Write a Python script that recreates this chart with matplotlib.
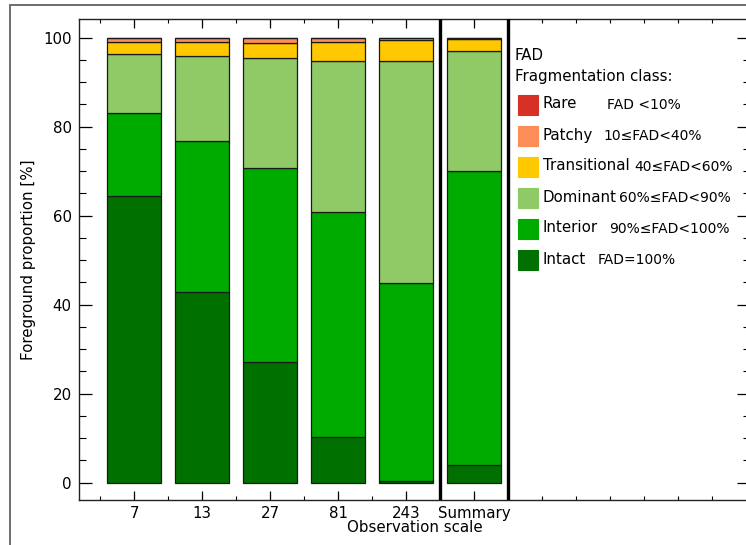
import matplotlib
matplotlib.use("Agg")
import matplotlib.pyplot as plt
from matplotlib.patches import Rectangle
from matplotlib.ticker import MultipleLocator, FixedLocator
import numpy as np

# ---- data ----
scales = ["7", "13", "27", "81", "243", "Summary"]
classes = ["Rare", "Patchy", "Transitional", "Dominant", "Interior", "Intact"]
class_ranges = ["FAD <10%", "10\u2264FAD<40%", "40\u2264FAD<60%",
                "60%\u2264FAD<90%", "90%\u2264FAD<100%", "FAD=100%"]
colors = ["#d73027", "#fc8d59", "#ffc800", "#8fca67", "#00ab00", "#007100"]

intact = [64.4, 42.8, 27.1, 10.3, 0.4, 4.0]
interior = [18.6, 34.0, 43.5, 50.5, 44.5, 66.1]
dominant = [13.4, 19.1, 24.8, 34.0, 49.8, 26.9]
transitional = [2.6, 3.0, 3.3, 4.1, 4.7, 2.6]
patchy = [0.9, 1.0, 1.2, 1.0, 0.55, 0.25]
rare = [0.1, 0.1, 0.1, 0.1, 0.05, 0.15]

series = {"Intact": intact, "Interior": interior, "Dominant": dominant,
          "Transitional": transitional, "Patchy": patchy, "Rare": rare}

W, H = 746, 545
fig = plt.figure(figsize=(W / 100, H / 100), dpi=100)
FS = 10.8

def fx(x):
    return x / W

def fy(y):
    return 1 - y / H

# outer frame
fig.patches.append(Rectangle((fx(10), -0.1), 1.2, fy(5) + 0.1, transform=fig.transFigure,
                             fill=False, edgecolor="#6e6e6e", linewidth=1.4, zorder=0))

ax = fig.add_axes([fx(79.3), fy(500), fx(750) - fx(79.3), fy(19.3) - fy(500)])
x = np.arange(len(scales))
bottom = np.zeros(len(scales))
order = ["Intact", "Interior", "Dominant", "Transitional", "Patchy", "Rare"]
for name in order:
    vals = np.array(series[name])
    c = colors[classes.index(name)]
    ax.bar(x, vals, width=0.8, bottom=bottom, color=c, edgecolor="#1a1a1a",
           linewidth=0.9, zorder=2)
    bottom += vals

ax.axvline(4.5, color="black", linewidth=2.4, zorder=3)
ax.axvline(5.5, color="black", linewidth=2.4, zorder=3)

ax.set_xlim(-0.806, 9.054)
ax.set_ylim(-3.9, 104.1)
ax.set_xticks(x)
ax.set_xticklabels(scales, fontsize=FS)
ax.xaxis.set_minor_locator(FixedLocator(list(np.arange(-0.5, 5.0, 1.0)) + list(np.arange(6.0, 9.0, 0.5))))
ax.yaxis.set_major_locator(MultipleLocator(20))
ax.yaxis.set_minor_locator(MultipleLocator(5))
ax.set_yticks([0, 20, 40, 60, 80, 100])
ax.tick_params(axis="y", which="major", direction="in", length=9.4, width=0.9,
               left=True, right=True, labelsize=FS, pad=5.5)
ax.tick_params(axis="y", which="minor", direction="in", length=5, width=0.8,
               left=True, right=True)
ax.tick_params(axis="x", which="major", direction="in", length=6.5, width=0.9,
               top=True, bottom=True, labelsize=FS, pad=4.5)
ax.tick_params(axis="x", which="minor", direction="in", length=3.2, width=0.8,
               top=True, bottom=True)
for s in ax.spines.values():
    s.set_linewidth(1.0)
    s.set_color("#222222")

ax.set_xlabel("Observation scale", fontsize=FS, labelpad=-1)
ax.set_ylabel("Foreground proportion [%]", fontsize=FS, labelpad=5)

# legend (manual)
fig.text(fx(515), fy(55), "FAD", fontsize=FS, va="center", ha="left")
fig.text(fx(515), fy(77), "Fragmentation class:", fontsize=FS, va="center", ha="left")
row_y0, row_dy = 105, 31
range_x = [607, 603, 634, 619, 609, 598]
for i, (name, rng) in enumerate(zip(classes, class_ranges)):
    yc = row_y0 + i * row_dy
    fig.patches.append(Rectangle((fx(518), fy(yc + 10)), fx(20), 20 / H,
                                 transform=fig.transFigure, facecolor=colors[i],
                                 edgecolor=colors[i], linewidth=0.8, zorder=5))
    fig.text(fx(543), fy(yc - 1), name, fontsize=FS, va="center", ha="left")
    fig.text(fx(range_x[i]), fy(yc), rng, fontsize=10, va="center", ha="left")

fig.savefig("out.png", dpi=100)
